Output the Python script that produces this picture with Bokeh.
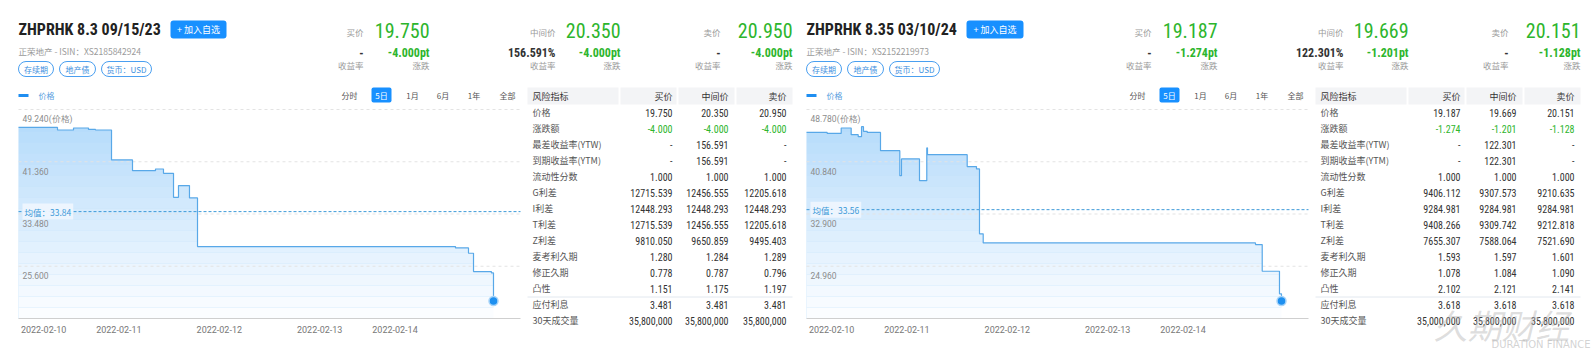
import numpy as np
from bokeh.plotting import figure
from bokeh.models import Range1d, BoxAnnotation
from bokeh.core.properties import value
from bokeh.embed import file_html
from bokeh.resources import INLINE

# ---------------- data ----------------
titles = ["ZHPRHK 8.3 09/15/23", "ZHPRHK 8.35 03/10/24"]
issuer = "正荣地产"
isins = ["XS2185842924", "XS2152219973"]
tags = ["存续期", "地产债", "货币：USD"]
quote_labels = ["买价", "中间价", "卖价"]
left_prices = ["19.750", "20.350", "20.950"]
left_changes = ["-4.000pt", "-4.000pt", "-4.000pt"]
left_yields = ["-", "156.591%", "-"]
right_prices = ["19.187", "19.669", "20.151"]
right_changes = ["-1.274pt", "-1.201pt", "-1.128pt"]
right_yields = ["-", "122.301%", "-"]
range_buttons = ["分时", "5日", "1月", "6月", "1年", "全部"]
active_range = "5日"
series_name = "价格"

date_ticks = [5, 20, 40, 60, 75]
date_labels = ["2022-02-10", "2022-02-11", "2022-02-12", "2022-02-13", "2022-02-14"]

left_yticks = [17.72, 25.60, 33.48, 41.36, 49.24]
right_yticks = [17.02, 24.96, 32.90, 40.84, 48.78]
left_avg = 33.84
right_avg = 33.56

left_t = [0, 7.77, 10.96, 13.94, 15.34, 18.53, 22.71, 27.29, 28.88, 30.88, 31.87,
          34.06, 35.66, 87.05, 89.64, 90.64, 94.20, 94.62]
left_p = [46.54, 46.15, 46.45, 46.24, 46.15, 41.63, 40.02, 40.27, 39.61, 36.00, 37.76,
          35.91, 28.57, 28.37, 27.56, 24.80, 24.60, 20.35]
right_t = [0, 4.12, 6.91, 8.90, 10.30, 10.96, 11.35, 12.09, 14.74, 18.59, 18.92, 22.51,
           23.96, 24.10, 32.01, 33.86, 34.46, 35.20, 89.44, 90.78, 94.22, 94.62]
right_p = [45.30, 45.15, 45.97, 44.96, 44.65, 46.17, 45.46, 45.30, 42.53, 38.73, 41.27, 37.97,
           42.94, 41.92, 40.10, 39.75, 29.88, 28.51, 28.25, 24.20, 20.77, 19.67]

risk_labels = ["价格", "涨跌额", "最差收益率(YTW)", "到期收益率(YTM)", "流动性分数", "G利差",
               "I利差", "T利差", "Z利差", "麦考利久期", "修正久期", "凸性", "应付利息", "30天成交量"]
table_header = ["风险指标", "买价", "中间价", "卖价"]
left_bid = ["19.750", "-4.000", "-", "-", "1.000", "12715.539", "12448.293", "12715.539",
            "9810.050", "1.280", "0.778", "1.151", "3.481", "35,800,000"]
left_mid = ["20.350", "-4.000", "156.591", "156.591", "1.000", "12456.555", "12448.293",
            "12456.555", "9650.859", "1.284", "0.787", "1.175", "3.481", "35,800,000"]
left_ask = ["20.950", "-4.000", "-", "-", "1.000", "12205.618", "12448.293", "12205.618",
            "9495.403", "1.289", "0.796", "1.197", "3.481", "35,800,000"]
right_bid = ["19.187", "-1.274", "-", "-", "1.000", "9406.112", "9284.981", "9408.266",
             "7655.307", "1.593", "1.078", "2.102", "3.618", "35,000,000"]
right_mid = ["19.669", "-1.201", "122.301", "122.301", "1.000", "9307.573", "9284.981",
             "9309.742", "7588.064", "1.597", "1.084", "2.121", "3.618", "35,800,000"]
right_ask = ["20.151", "-1.128", "-", "-", "1.000", "9210.635", "9284.981", "9212.818",
             "7521.690", "1.601", "1.090", "2.141", "3.618", "35,800,000"]

# ---------------- styling / layout ----------------
W, H = 1595, 355
DX = 788
CJK = "Noto Sans CJK SC"
NUM = "Roboto Condensed, DejaVu Sans Condensed, Liberation Sans Narrow, Arial Narrow, Roboto"
SANS = "Roboto"
GREEN = "#2db52d"
BLUE = "#1890ff"

p = figure(width=W, height=H, x_range=Range1d(0, W), y_range=Range1d(H, 0),
           x_axis_location=None, y_axis_location=None, toolbar_location=None,
           output_backend="svg", min_border=0, outline_line_color=None)
p.grid.visible = False


def T(x, y, s, color="#333333", size=9, font=CJK, align="left", baseline="middle",
      style="normal", alpha=1.0, xr=None, yr=None, xo=0, yo=0, **extra):
    kw = dict(extra)
    if xr:
        kw["x_range_name"] = xr
    if yr:
        kw["y_range_name"] = yr
    p.text(x=[x], y=[y], text=[s], text_color=color, text_font_size=f"{size}px",
           text_font=value(font), text_align=align, text_baseline=baseline,
           text_font_style=style, text_alpha=alpha, x_offset=xo, y_offset=yo, **kw)


def box(l, r, t, b, fill=None, line=None, radius=0, lw=1):
    p.add_layout(BoxAnnotation(left=l, right=r, top=t, bottom=b,
                               fill_color=fill if fill else "white",
                               fill_alpha=1.0 if fill else 0.0,
                               line_color=line, line_width=lw, line_alpha=1.0 if line else 0.0,
                               border_radius=radius, level="underlay"))


CH_X0, CH_X1, CH_TOP, CH_BOT = 18, 520, 109, 318
T0, T1 = 0, 100

ranges_x, ranges_y = {}, {}


def make_ranges(name, dx, yt):
    bot, top = yt[0], yt[-1]
    sx = (CH_X1 - CH_X0) / (T1 - T0)
    ranges_x[name] = Range1d(T0 - (CH_X0 + dx) / sx, T0 + (W - CH_X0 - dx) / sx)
    sy = (CH_BOT - CH_TOP) / (top - bot)
    ranges_y[name] = Range1d(bot - (H - CH_BOT) / sy, bot + CH_BOT / sy)


make_ranges("L", 0, left_yticks)
make_ranges("R", DX, right_yticks)
p.extra_x_ranges = ranges_x
p.extra_y_ranges = ranges_y


def panel(dx, name, title, title_box, isin, prices, changes, yields, t, v, yt, avg,
          bid, mid, ask):
    # ---- header ----
    T(18 + dx, 29, title, color="#222222", size=16, font=NUM, style="bold")
    bl, br = title_box
    box(bl + dx, br + dx, 20, 38, fill=BLUE, radius=3)
    T((bl + br) / 2 + dx, 29, "+ 加入自选", color="white", size=9, align="center")
    T(18 + dx, 50, f"{issuer} - ISIN：{isin}", color="#9a9a9a", size=8.5)
    for (l, r), s in zip([(18, 53), (59, 95), (101, 151)], tags):
        box(l + dx, r + dx, 61, 76, line="#4a9ff0", radius=8)
        T((l + r) / 2 + dx, 68.5, s, color="#3d8fe0", size=8, align="center")
    lab_x = [363, 555, 720]
    val_x = [429, 620, 792]
    for k in range(3):
        T(lab_x[k] + dx, 31, quote_labels[k], color="#9a9a9a", size=8.5, align="right")
        T(val_x[k] + dx, 29.5, prices[k], color=GREEN, size=20, font=NUM, align="right")
        T(lab_x[k] + dx, 52.5, yields[k], color="#333333", size=12, font=NUM,
          align="right", style="bold")
        T(val_x[k] + dx, 52.5, changes[k], color=GREEN, size=12, font=NUM,
          align="right", style="bold")
        T(lab_x[k] + dx, 64.5, "收益率", color="#9a9a9a", size=8.5, align="right")
        T(val_x[k] + dx, 64.5, "涨跌", color="#9a9a9a", size=8.5, align="right")

    # ---- chart legend + range buttons ----
    p.segment(x0=[18 + dx], x1=[28 + dx], y0=[95], y1=[95], line_color="#1f8ef1",
              line_width=3)
    T(38 + dx, 95, series_name, color="#5aa0e0", size=8)
    for cx, s in zip([349, 381, 412, 442.5, 473.5, 507], range_buttons):
        if s == active_range:
            box(371 + dx, 391 + dx, 87, 102, fill=BLUE, radius=2)
            T(cx + dx, 95, s, color="white", size=8, align="center")
        else:
            T(cx + dx, 95, s, color="#555555", size=8, align="center")

    # ---- chart ----
    rk = dict(x_range_name=name, y_range_name=name)
    bot, top = yt[0], yt[-1]
    p.varea_step(x=t, y1=bot, y2=v, step_mode="after", fill_color="#b0d9fb", **rk)
    n = 19
    edges = np.linspace(bot, top, n + 1)
    alphas = [0.97 * (1 - (k + 0.5) / n) for k in range(n)]
    p.quad(left=T0, right=T1, bottom=edges[:-1], top=edges[1:], fill_color="white",
           fill_alpha=alphas, line_color=None, **rk)
    p.segment(x0=T0, x1=T1, y0=yt[1:], y1=yt[1:], line_color="#e3e3e3",
              line_dash="3 3", line_width=1, **rk)
    p.segment(x0=[T0], x1=[T1], y0=[bot], y1=[bot], line_color="#cfcfcf",
              line_width=1, **rk)
    p.segment(x0=[T0], x1=[T1], y0=[avg], y1=[avg], line_color="#3d9ad8",
              line_dash="3 2", line_width=1, **rk)
    p.step(x=t, y=v, mode="after", line_color="#58a8e8", line_width=1.2, **rk)
    p.scatter(x=[t[-1]], y=[v[-1]], size=9, fill_color="#1e90f0", line_color="#a8d4f8",
              line_width=1.5, **rk)
    for k, yv in enumerate(yt[1:]):
        lab = f"{yv:.3f}" + ("(价格)" if k == len(yt) - 2 else "")
        T(T0, yv, lab, color="#8c8c8c", size=8.5, font=SANS, xo=4, yo=9.5,
          xr=name, yr=name)
    T(T0, avg, f"均值：{avg:.2f}", color="#3a99d8", size=8.5, font=CJK, xo=4,
      xr=name, yr=name, background_fill_color="#eef6fe", background_fill_alpha=0.95,
      padding=2)
    for tk, lab in zip(date_ticks, date_labels):
        T(tk, bot, lab, color="#777777", size=9, font=SANS, align="center", yo=10.5,
          xr=name, yr=name)

    # ---- risk table ----
    for l, r in [(527, 618), (620, 676), (678, 734), (736, 792)]:
        box(l + dx, r + dx, 87, 104, fill="#f3f4f6")
    T(532 + dx, 95.5, table_header[0], color="#333333", size=9)
    col_x = [672, 728, 786]
    for k in range(3):
        T(col_x[k] + dx, 95.5, table_header[k + 1], color="#333333", size=9, align="right")
    p.segment(x0=[527 + dx], x1=[792 + dx], y0=[296.5], y1=[296.5], line_color="#e2e8ef",
              line_width=1)
    for i, lab in enumerate(risk_labels):
        y = 112 + 16 * i
        T(532 + dx, y, lab, color="#555555", size=9)
        for k, col in enumerate([bid, mid, ask]):
            color = GREEN if lab == "涨跌额" else "#333333"
            T(col_x[k] + dx, y, col[i], color=color, size=10, font=NUM, align="right")


panel(0, "L", titles[0], (170, 226), isins[0], left_prices, left_changes, left_yields,
      left_t, left_p, left_yticks, left_avg, left_bid, left_mid, left_ask)
panel(DX, "R", titles[1], (178, 235), isins[1], right_prices, right_changes, right_yields,
      right_t, right_p, right_yticks, right_avg, right_bid, right_mid, right_ask)

# watermark
T(1433, 324, "久期财经", color="#b5b5b5", size=34, font=CJK, style="italic", alpha=0.45)
T(1590, 344, "DURATION FINANCE", color="#b5b5b5", size=10, font="DejaVu Sans",
  align="right", alpha=0.6)

open("out.html", "w").write(file_html(p, INLINE))
